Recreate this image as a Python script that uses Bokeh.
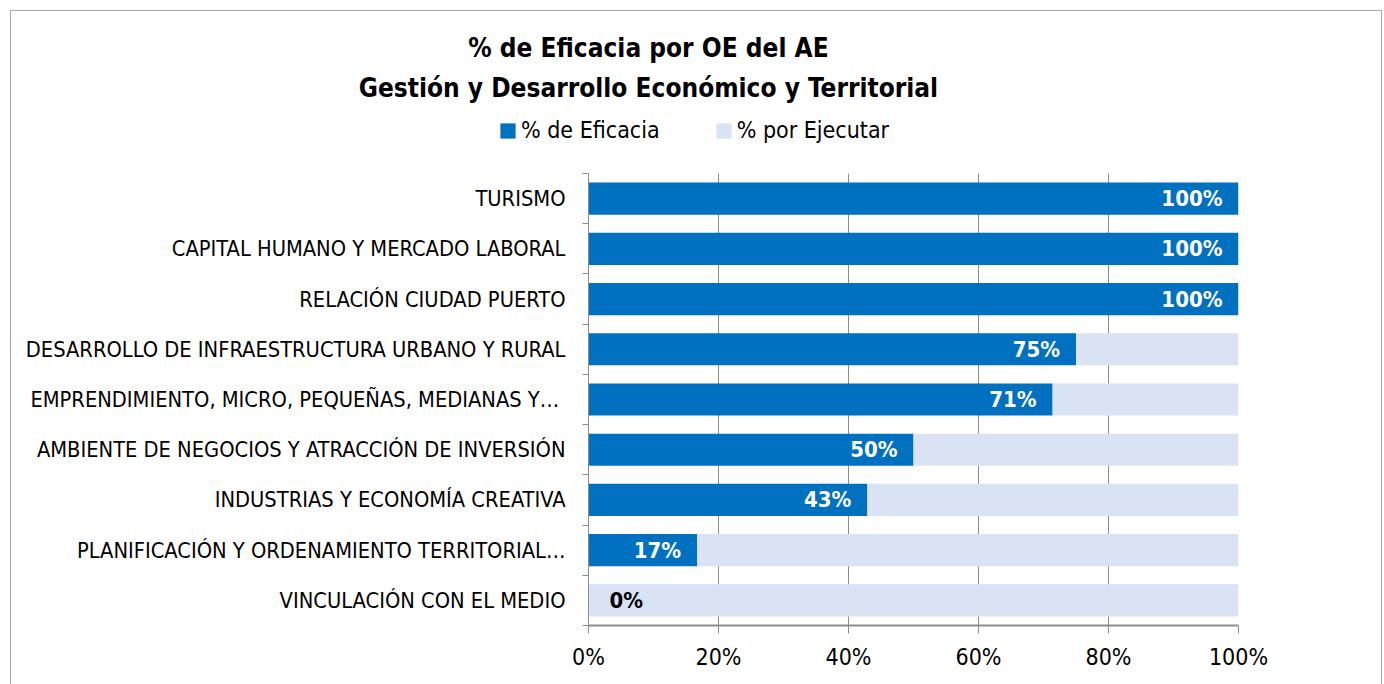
from bokeh.plotting import figure
from bokeh.layouts import column
from bokeh.models import (Range1d, FixedTicker, PrintfTickFormatter,
                          Legend, LegendItem, ColumnDataSource)
from bokeh.core.properties import value
from bokeh.embed import file_html
from bokeh.resources import INLINE

# ---- data (top to bottom as in the chart) ----
categories = [
    "TURISMO",
    "CAPITAL HUMANO Y MERCADO LABORAL",
    "RELACIÓN CIUDAD PUERTO",
    "DESARROLLO DE INFRAESTRUCTURA URBANO Y RURAL",
    "EMPRENDIMIENTO, MICRO, PEQUEÑAS, MEDIANAS  Y…",
    "AMBIENTE DE NEGOCIOS Y ATRACCIÓN DE INVERSIÓN",
    "INDUSTRIAS Y ECONOMÍA CREATIVA",
    "PLANIFICACIÓN Y ORDENAMIENTO TERRITORIAL…",
    "VINCULACIÓN CON EL MEDIO",
]
eficacia = [100, 100, 100, 75, 71.4, 50, 42.9, 16.7, 0]
x_ticks = [0, 20, 40, 60, 80, 100]
title_lines = ["% de Eficacia por OE del AE",
               "Gestión y Desarrollo Económico y Territorial"]
series_names = ["% de Eficacia", "% por Ejecutar"]

BLUE = "#0070C0"
LIGHT = "#DAE3F3"
GRID = "#8C8C8C"
BORDER = "1px solid #A6A6A6"
FONT = "'DejaVu Sans Condensed', 'Liberation Sans', sans-serif"

n = len(categories)
ypos = [n - 1 - i + 0.5 for i in range(n)]
por_ejecutar = [100 - v for v in eficacia]
labels = ["%d%%" % round(v) for v in eficacia]

src = ColumnDataSource(dict(y=ypos, ef=eficacia, rest=por_ejecutar,
                            full=[100] * n, lab=labels))

# ---------------- header figure: title + legend ----------------
W = 1372
HT = 160
top = figure(width=W, height=HT, x_range=Range1d(0, W - 2), y_range=Range1d(HT - 1, 0),
             output_backend="svg", toolbar_location=None, title=None,
             min_border=0, x_axis_type=None, y_axis_type=None)
top.frame_align = False
top.grid.visible = False
top.outline_line_color = None
top.styles = {"border-left": BORDER, "border-top": BORDER, "border-right": BORDER,
              "box-sizing": "border-box"}

top.text(x=[636, 636], y=[36, 76], text=title_lines, text_align="center",
         text_baseline="middle", text_font=value(FONT), text_font_style="bold",
         text_font_size="26px", text_color="black")

# zero-area swatch renderers for the legend
d1 = top.hbar(y=[0], left=[0], right=[0], height=0, fill_color=BLUE, line_color=None)
d2 = top.hbar(y=[0], left=[0], right=[0], height=0, fill_color=LIGHT, line_color=None)
legend = Legend(items=[LegendItem(label=series_names[0], renderers=[d1]),
                       LegendItem(label=series_names[1], renderers=[d2])],
                location=(487, 28), orientation="horizontal",
                glyph_width=19, glyph_height=19, label_standoff=4, spacing=54,
                padding=0, margin=0, border_line_color=None,
                background_fill_alpha=0, label_text_font=FONT,
                label_text_color="black",
                label_text_font_size="23px", label_height=20)
top.add_layout(legend, "center")

# ---------------- chart figure ----------------
HB = 684 - 10 - HT
p = figure(width=W, height=HB, x_range=Range1d(0, 100), y_range=Range1d(0, n),
           output_backend="svg", toolbar_location=None, title=None,
           min_border_left=577, min_border_right=145, min_border_top=3,
           min_border_bottom=59)
p.frame_align = False
p.styles = {"border-left": BORDER, "border-right": BORDER, "box-sizing": "border-box"}
p.outline_line_color = None

r1 = p.hbar(y="y", left=0, right="ef", height=0.64, source=src,
            fill_color=BLUE, line_color=None)
r2 = p.hbar(y="y", left="ef", right="full", height=0.64, source=src,
            fill_color=LIGHT, line_color=None)

# data labels
lab_idx = [i for i, v in enumerate(eficacia) if v > 0]
zero_idx = [i for i, v in enumerate(eficacia) if v == 0]
p.text(x=[eficacia[i] for i in lab_idx], y=[ypos[i] for i in lab_idx],
       text=[labels[i] for i in lab_idx], x_offset=-16, text_align="right",
       text_baseline="middle", text_color="white", text_font=value(FONT),
       text_font_style="bold", text_font_size="22px")
p.text(x=[eficacia[i] for i in zero_idx], y=[ypos[i] for i in zero_idx],
       text=[labels[i] for i in zero_idx], x_offset=21, text_align="left",
       text_baseline="middle", text_color="black", text_font=value(FONT),
       text_font_style="bold", text_font_size="22px")

# x axis
p.xaxis.ticker = FixedTicker(ticks=x_ticks)
p.xaxis.formatter = PrintfTickFormatter(format="%d%%")
p.xaxis.axis_line_color = GRID
p.xaxis.axis_line_width = 2
p.xaxis.major_tick_line_color = GRID
p.xaxis.major_tick_out = 8
p.xaxis.major_tick_in = 0
p.xaxis.minor_tick_line_color = None
p.xaxis.major_label_text_font = FONT
p.xaxis.major_label_text_font_size = "23px"
p.xaxis.major_label_text_color = "black"
p.xaxis.major_label_standoff = 10

# y axis: labels at band centres, ticks at band boundaries
p.yaxis.ticker = FixedTicker(ticks=ypos, minor_ticks=list(range(n + 1)))
p.yaxis.major_label_overrides = {y: c for y, c in zip(ypos, categories)}
p.yaxis.axis_line_color = GRID
p.yaxis.major_tick_line_color = None
p.yaxis.major_tick_out = 6
p.yaxis.major_tick_in = 0
p.yaxis.minor_tick_line_color = GRID
p.yaxis.minor_tick_out = 6
p.yaxis.minor_tick_in = 0
p.yaxis.major_label_text_font = FONT
p.yaxis.major_label_text_font_size = "21.7px"
p.yaxis.major_label_text_color = "black"
p.yaxis.major_label_standoff = 17

p.xgrid.ticker = FixedTicker(ticks=x_ticks[1:])
p.xgrid.grid_line_color = GRID
p.xgrid.grid_line_width = 1
p.ygrid.grid_line_color = None
p.xgrid.level = "underlay"

layout = column(top, p, spacing=0)
layout.margin = (10, 0, 0, 10)

open("out.html", "w").write(file_html(layout, INLINE))
